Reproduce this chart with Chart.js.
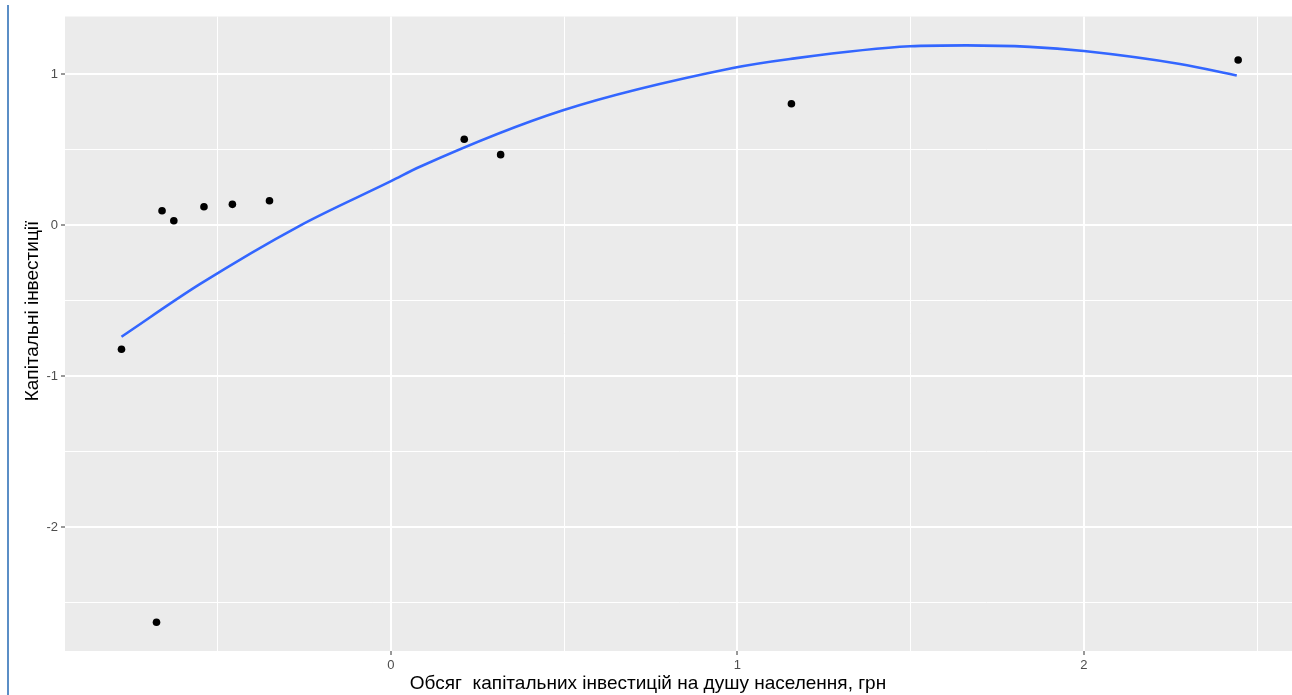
<!DOCTYPE html>
<html>
<head>
<meta charset="utf-8">
<script src="https://cdn.jsdelivr.net/npm/chart.js@4"></script>
<style>
  html, body { margin: 0; padding: 0; background: #fff; overflow: hidden; }
  #wrap { position: relative; width: 1300px; height: 695px; }
  #edge { position: absolute; left: 7px; top: 5px; width: 2px; height: 690px; background: #5b8ec6; }
</style>
</head>
<body>
<div id="wrap">
  <canvas id="grafico" width="1300" height="695"></canvas>
  <div id="edge"></div>
</div>
<script>
// --- DATOS ---
// puntos observados
const obsX = [-0.777, -0.676, -0.660, -0.626, -0.539, -0.457, -0.350, 0.212, 0.317, 1.156, 2.445];
const obsY = [-0.823, -2.631, 0.095, 0.028, 0.121, 0.137, 0.161, 0.568, 0.466, 0.803, 1.093];

// curva de ajuste (polinomio de 2º grado)
const curvaX = [-0.777, -0.551, -0.263, 0.002, 0.084, 0.497, 0.987, 1.152, 1.498, 1.661, 1.844, 2.000, 2.277, 2.441];
const curvaY = [-0.740, -0.392, -0.005, 0.292, 0.386, 0.760, 1.040, 1.100, 1.184, 1.190, 1.180, 1.152, 1.066, 0.990];

// rango de los ejes y marcas
const rangoX = [-0.94, 2.605];
const rangoY = [-2.821, 1.381];
const paso = 0.5;

const tituloX = 'Обсяг  капітальних інвестицій на душу населення, грн';
const tituloY = 'Капітальні інвестиції';

const esEntero = v => Math.abs(v - Math.round(v)) < 1e-6;

// fondo gris del panel
const fondoPanel = {
    id: 'fondoPanel',
    beforeDraw(chart) {
        const { ctx, chartArea: a } = chart;
        ctx.save();
        ctx.fillStyle = '#ebebeb';
        ctx.fillRect(a.left, a.top, a.right - a.left, a.bottom - a.top);
        ctx.restore();
    }
};

// títulos de los ejes
const titulos = {
    id: 'titulos',
    afterDraw(chart) {
        const ctx = chart.ctx;
        ctx.save();
        ctx.fillStyle = '#000';
        ctx.font = '19px "Liberation Sans", Arial, sans-serif';
        ctx.textAlign = 'center';
        ctx.textBaseline = 'middle';
        ctx.fillText(tituloX, 648, 684);
        ctx.translate(33, 311);
        ctx.rotate(-Math.PI / 2);
        ctx.fillText(tituloY, 0, 0);
        ctx.restore();
    }
};

const opcionesEje = (rango, tamano) => ({
    type: 'linear',
    min: rango[0],
    max: rango[1],
    border: { display: false },
    grid: {
        color: '#ffffff',
        lineWidth: c => esEntero(c.tick.value) ? 2 : 1,
        tickColor: c => esEntero(c.tick.value) ? '#333333' : 'rgba(0,0,0,0)',
        tickLength: 4,
        tickWidth: 1
    },
    ticks: {
        stepSize: paso,
        includeBounds: false,
        autoSkip: false,
        maxRotation: 0,
        color: '#4d4d4d',
        font: { family: '"Liberation Sans", Arial, sans-serif', size: 13 },
        padding: 3,
        callback: v => esEntero(v) ? String(Math.round(v)) : ''
    },
    afterFit: tamano
});

const ctxGrafico = document.getElementById('grafico').getContext('2d');

new Chart(ctxGrafico, {
    type: 'scatter',
    data: {
        datasets: [
            {
                label: 'ajuste',
                type: 'line',
                data: curvaX.map((x, i) => ({ x, y: curvaY[i] })),
                borderColor: '#3366ff',
                borderWidth: 2.6,
                pointRadius: 0,
                cubicInterpolationMode: 'monotone',
                fill: false
            },
            {
                label: 'observaciones',
                data: obsX.map((x, i) => ({ x, y: obsY[i] })),
                backgroundColor: '#000000',
                borderColor: '#000000',
                pointRadius: 3.8,
                borderWidth: 0
            }
        ]
    },
    options: {
        responsive: false,
        animation: false,
        layout: { padding: { top: 16.5, right: 6.4, left: 0, bottom: 0 } },
        plugins: { legend: { display: false }, tooltip: { enabled: false } },
        scales: {
            x: opcionesEje(rangoX, s => { s.height = 44; }),
            y: opcionesEje(rangoY, s => { s.width = 65; })
        }
    },
    plugins: [fondoPanel, titulos]
});
</script>
</body>
</html>
